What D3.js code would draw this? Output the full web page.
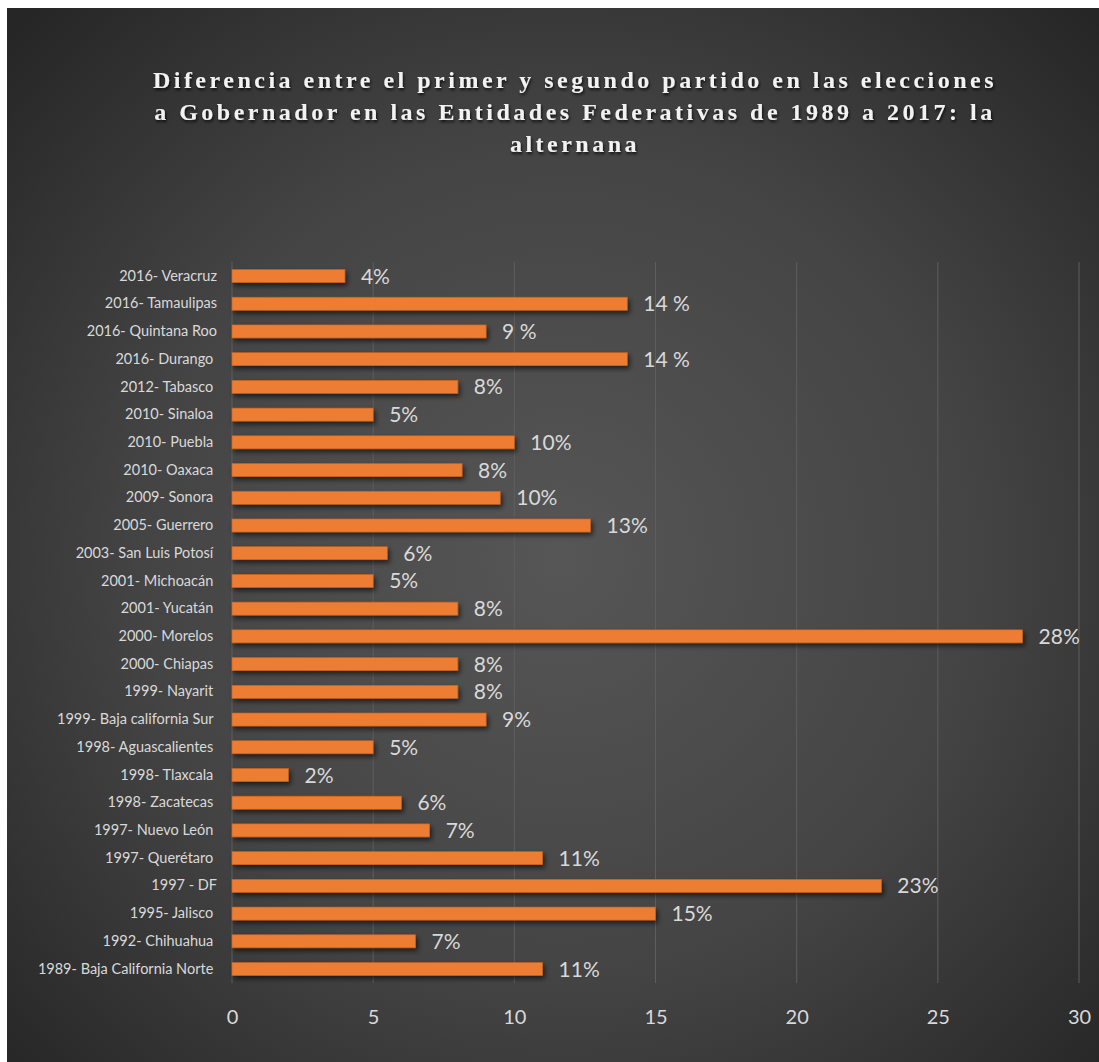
<!DOCTYPE html>
<html>
<head>
<meta charset="utf-8">
<script src="https://cdn.jsdelivr.net/npm/d3@7"></script>
<style>
  body { margin: 0; background: #fff; }
  svg { display: block; }
</style>
</head>
<body>
<div id="grafico"></div>
<script>
// datos (de arriba hacia abajo)
const categorias = [
  "2016- Veracruz", "2016- Tamaulipas", "2016- Quintana Roo", "2016- Durango ",
  "2012- Tabasco ", "2010- Sinaloa ", "2010- Puebla ", "2010- Oaxaca ",
  "2009- Sonora ", "2005- Guerrero ", "2003- San Luis Potosí ", "2001- Michoacán ",
  "2001- Yucatán ", "2000- Morelos ", "2000- Chiapas ", "1999- Nayarit ",
  "1999- Baja california Sur ", "1998- Aguascalientes ", "1998- Tlaxcala ", "1998- Zacatecas ",
  "1997- Nuevo León ", "1997- Querétaro ", "1997 - DF", "1995- Jalisco ",
  "1992- Chihuahua ", "1989- Baja California Norte "
];
const valores = [
  4, 14, 9, 14, 8, 5, 10, 8.15, 9.5, 12.7, 5.5, 5, 8, 28, 8, 8, 9, 5, 2, 6, 7, 11, 23, 15, 6.5, 11
];
const etiquetas = [
  "4%", "14 %", "9 %", "14 %", "8%", "5%", "10%", "8%", "10%", "13%", "6%", "5%", "8%",
  "28%", "8%", "8%", "9%", "5%", "2%", "6%", "7%", "11%", "23%", "15%", "7%", "11%"
];
const ticks = [0, 5, 10, 15, 20, 25, 30];

const titulo = [
  "Diferencia entre el primer y segundo partido en las elecciones",
  "a Gobernador en las Entidades Federativas de 1989 a 2017: la",
  "alternana"
];

const width = 1099, height = 1062;
const margin = {top: 262, right: 20, bottom: 79, left: 232};

const svg = d3.select("#grafico").append("svg")
  .attr("width", width)
  .attr("height", height);

const defs = svg.append("defs");
const grad = defs.append("radialGradient")
  .attr("id", "fondo")
  .attr("gradientUnits", "userSpaceOnUse")
  .attr("cx", 560).attr("cy", 560).attr("r", 760);
grad.append("stop").attr("offset", "0%").attr("stop-color", "#565656");
grad.append("stop").attr("offset", "55%").attr("stop-color", "#444444");
grad.append("stop").attr("offset", "100%").attr("stop-color", "#262626");

const sombra = defs.append("filter").attr("id", "sombra")
  .attr("x", "-5%").attr("y", "-50%").attr("width", "115%").attr("height", "250%");
sombra.append("feDropShadow")
  .attr("dx", 2).attr("dy", 3).attr("stdDeviation", 2.5)
  .attr("flood-color", "#000").attr("flood-opacity", 0.6);

const sombraTexto = defs.append("filter").attr("id", "sombraTexto");
sombraTexto.append("feDropShadow")
  .attr("dx", 1).attr("dy", 2).attr("stdDeviation", 1.5)
  .attr("flood-color", "#000").attr("flood-opacity", 0.8);

// fondo
svg.append("rect")
  .attr("x", 7).attr("y", 8)
  .attr("width", width - 7).attr("height", height - 8)
  .attr("fill", "url(#fondo)");

// título
svg.append("g")
  .attr("filter", "url(#sombraTexto)")
  .selectAll("text")
  .data(titulo)
  .join("text")
  .attr("x", 575)
  .attr("y", (d, i) => 88 + i * 32)
  .attr("text-anchor", "middle")
  .attr("fill", "#f2f2f2")
  .style("font-family", "'Liberation Serif', 'Times New Roman', serif")
  .style("font-weight", "bold")
  .style("font-size", "24px")
  .style("letter-spacing", "3.5px")
  .text(d => d);

// escalas
const x = d3.scaleLinear()
  .domain([0, 30])
  .range([margin.left, width - margin.right]);

const y = d3.scaleBand()
  .domain(categorias)
  .range([margin.top, height - margin.bottom])
  .paddingInner(0.53)
  .paddingOuter(0.27);

// rejilla
svg.append("g")
  .selectAll("line")
  .data(ticks)
  .join("line")
  .attr("x1", d => x(d)).attr("x2", d => x(d))
  .attr("y1", margin.top).attr("y2", height - margin.bottom)
  .attr("stroke", "#5e5e5e")
  .attr("stroke-width", 1);

// eje x
const ejeX = svg.append("g")
  .attr("transform", `translate(0,${height - margin.bottom})`)
  .call(d3.axisBottom(x).tickValues(ticks).tickSize(0).tickPadding(27));
ejeX.select(".domain").remove();
ejeX.selectAll("text")
  .attr("fill", "#d9d9d9")
  .style("font-family", "Lato, 'Open Sans', sans-serif")
  .style("font-size", "20px");

// eje y
const ejeY = svg.append("g")
  .attr("transform", `translate(${margin.left},0)`)
  .call(d3.axisLeft(y).tickSize(0).tickPadding(15));
ejeY.select(".domain").remove();
ejeY.selectAll("text")
  .attr("fill", "#d9d9d9")
  .style("white-space", "pre")
  .style("font-family", "Lato, 'Open Sans', sans-serif")
  .style("font-size", "14.5px");

// barras
svg.append("g")
  .attr("filter", "url(#sombra)")
  .selectAll("rect")
  .data(valores)
  .join("rect")
  .attr("x", x(0))
  .attr("y", (d, i) => y(categorias[i]))
  .attr("width", d => x(d) - x(0))
  .attr("height", y.bandwidth())
  .attr("fill", "#ed7d31")
  .attr("stroke", "#c9601c")
  .attr("stroke-width", 0.6);

// etiquetas de valores
svg.append("g")
  .selectAll("text")
  .data(valores)
  .join("text")
  .attr("x", d => x(d) + 16)
  .attr("y", (d, i) => y(categorias[i]) + y.bandwidth() / 2)
  .attr("dy", "0.36em")
  .attr("fill", "#d9d9d9")
  .style("font-family", "Lato, 'Open Sans', sans-serif")
  .style("font-size", "21px")
  .text((d, i) => etiquetas[i]);
</script>
</body>
</html>
